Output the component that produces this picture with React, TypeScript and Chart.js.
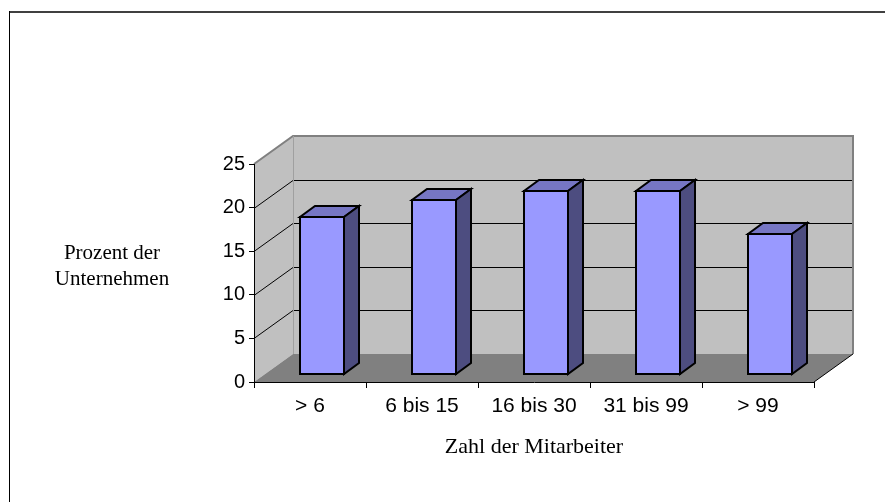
import { useEffect, useRef } from 'react';
import { Chart, registerables } from 'chart.js';

Chart.register(...registerables);

// ---- data ----
const categories = ['> 6', '6 bis 15', '16 bis 30', '31 bis 99', '> 99'];
const percentValues = [18, 20, 21, 21, 16];
const yMin = 0;
const yMax = 25;
const yStep = 5;
const xTitle = 'Zahl der Mitarbeiter';
const yTitleLines = ['Prozent der', 'Unternehmen'];

// ---- 3D styling ----
const WALL = { dx: 39, dy: -28 };
const BAR_SHIFT = { dx: 12, dy: -8 };
const BAR_DEPTH = { dx: 15, dy: -11 };
const COLORS = {
  wall: '#c0c0c0',
  floor: '#808080',
  edge: '#808080',
  grid: '#000000',
  barFront: '#9999ff',
  barTop: '#7676c4',
  barSide: '#4d4d80',
};

function poly(ctx: CanvasRenderingContext2D, pts: number[][]) {
  ctx.beginPath();
  ctx.moveTo(pts[0][0], pts[0][1]);
  for (let i = 1; i < pts.length; i++) ctx.lineTo(pts[i][0], pts[i][1]);
  ctx.closePath();
}

const excel3d = {
  id: 'excel3d',
  beforeDraw(chart: any) {
    const { ctx, chartArea: a, scales } = chart;
    const ys = scales.y;
    const y0 = ys.getPixelForValue(yMin);
    const yT = ys.getPixelForValue(yMax);
    const L = a.left;
    const R = a.right;
    const { dx, dy } = WALL;
    ctx.save();
    // outer frame
    ctx.fillStyle = '#404040';
    ctx.fillRect(9, 11, chart.width - 9, 2);
    ctx.fillStyle = '#000000';
    ctx.fillRect(9, 11, 1, chart.height - 11);

    // back wall
    ctx.fillStyle = COLORS.wall;
    poly(ctx, [[L + dx, yT + dy], [R + dx, yT + dy], [R + dx, y0 + dy], [L + dx, y0 + dy]]);
    ctx.fill();
    // side wall
    poly(ctx, [[L, y0], [L, yT], [L + dx, yT + dy], [L + dx, y0 + dy]]);
    ctx.fill();
    // floor
    ctx.fillStyle = COLORS.floor;
    poly(ctx, [[L, y0], [R, y0], [R + dx, y0 + dy], [L + dx, y0 + dy]]);
    ctx.fill();

    // gridlines
    ctx.strokeStyle = COLORS.grid;
    ctx.lineWidth = 1;
    for (let v = yMin + yStep; v < yMax; v += yStep) {
      const py = Math.round(ys.getPixelForValue(v)) + 0.5;
      ctx.beginPath();
      ctx.moveTo(L, py);
      ctx.lineTo(L + dx, py + dy);
      ctx.lineTo(R + dx, py + dy);
      ctx.stroke();
    }

    // wall edges
    ctx.strokeStyle = COLORS.edge;
    ctx.lineWidth = 2;
    ctx.beginPath();
    ctx.moveTo(L, yT);
    ctx.lineTo(L + dx, yT + dy);
    ctx.lineTo(R + dx, yT + dy);
    ctx.lineTo(R + dx, y0 + dy);
    ctx.stroke();
    ctx.lineWidth = 1;
    ctx.strokeStyle = '#a0a0a0';
    ctx.beginPath();
    ctx.moveTo(L + dx + 0.5, yT + dy);
    ctx.lineTo(L + dx + 0.5, y0 + dy);
    ctx.stroke();
    // floor right edge
    ctx.strokeStyle = '#000000';
    ctx.lineWidth = 1;
    ctx.beginPath();
    ctx.moveTo(R, y0);
    ctx.lineTo(R + dx, y0 + dy);
    ctx.stroke();
    ctx.restore();
  },
  beforeDatasetsDraw(chart: any) {
    chart.ctx.save();
    chart.ctx.translate(BAR_SHIFT.dx, BAR_SHIFT.dy);
  },
  afterDatasetsDraw(chart: any) {
    const ctx = chart.ctx as CanvasRenderingContext2D;
    const meta = chart.getDatasetMeta(0);
    const { dx, dy } = BAR_DEPTH;
    ctx.lineWidth = 2;
    ctx.strokeStyle = '#000000';
    ctx.lineJoin = 'miter';
    meta.data.forEach((el: any) => {
      const { x, y, base, width } = el.getProps(['x', 'y', 'base', 'width'], true);
      const l = Math.round(x - width / 2);
      const r = Math.round(x + width / 2);
      const t = Math.round(y);
      const b = Math.round(base);
      // top face
      ctx.fillStyle = COLORS.barTop;
      poly(ctx, [[l, t], [r, t], [r + dx, t + dy], [l + dx, t + dy]]);
      ctx.fill();
      ctx.stroke();
      // side face
      ctx.fillStyle = COLORS.barSide;
      poly(ctx, [[r, t], [r + dx, t + dy], [r + dx, b + dy], [r, b]]);
      ctx.fill();
      ctx.stroke();
      // front outline
      ctx.strokeRect(l, t, r - l, b - t);
    });
    ctx.restore();
  },
  afterDraw(chart: any) {
    const ctx = chart.ctx as CanvasRenderingContext2D;
    ctx.save();
    ctx.fillStyle = '#000000';
    ctx.textAlign = 'center';
    ctx.textBaseline = 'alphabetic';
    ctx.font = '21px "Liberation Serif", "Times New Roman", serif';
    ctx.fillText(yTitleLines[0], 112, 259);
    ctx.fillText(yTitleLines[1], 112, 285);
    ctx.font = '22px "Liberation Serif", "Times New Roman", serif';
    const a = chart.chartArea;
    ctx.fillText(xTitle, (a.left + a.right) / 2, 453);
    ctx.restore();
  },
};

export default function App() {
  const ref = useRef<HTMLCanvasElement>(null);
  useEffect(() => {
    if (!ref.current) return;
    const family = '"Liberation Sans", Arial, sans-serif';
    const chart = new Chart(ref.current, {
      type: 'bar',
      data: {
        labels: categories,
        datasets: [
          {
            data: percentValues,
            backgroundColor: COLORS.barFront,
            borderWidth: 0,
            barPercentage: 0.4,
            categoryPercentage: 1,
          },
        ],
      },
      options: {
        animation: false,
        responsive: true,
        maintainAspectRatio: false,
        devicePixelRatio: 1,
        layout: { padding: { left: 194, right: 71, top: 164, bottom: 80 } },
        plugins: { legend: { display: false }, tooltip: { enabled: false }, title: { display: false } },
        scales: {
          x: {
            type: 'category',
            offset: true,
            grid: { offset: true, drawOnChartArea: false, drawTicks: true, tickLength: 6, color: '#000000' },
            border: { display: true, color: '#000000', width: 1 },
            ticks: { color: '#000000', font: { family, size: 21 }, padding: 6, maxRotation: 0, autoSkip: false },
            afterFit: (s: any) => { s.height = 40; },
          },
          y: {
            min: yMin,
            max: yMax,
            ticks: { stepSize: yStep, color: '#000000', font: { family, size: 20 }, padding: 4 },
            grid: { drawOnChartArea: false, drawTicks: true, tickLength: 5, color: '#000000' },
            border: { display: true, color: '#000000', width: 1 },
            afterFit: (s: any) => { s.width = 60; },
          },
        },
      },
      plugins: [excel3d],
    });
    return () => chart.destroy();
  }, []);
  return (
    <div style={{ position: 'fixed', left: 0, top: 0, width: 885, height: 502, background: '#ffffff' }}>
      <canvas ref={ref} />
    </div>
  );
}
